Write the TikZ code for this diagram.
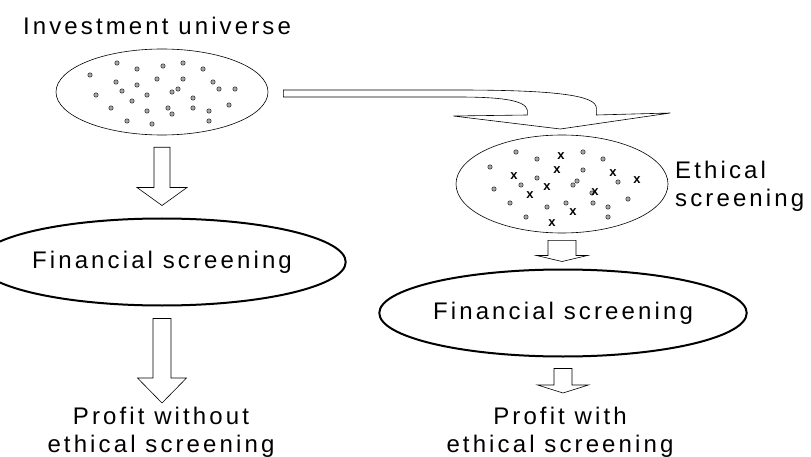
\documentclass[tikz,border=0pt]{standalone}
\usepackage{fontspec}
\setmainfont{Liberation Sans}[LetterSpace=13]
\usetikzlibrary{shapes.geometric,calc}

\tikzset{
  pool/.style={ellipse,draw,line width=0.6pt,inner sep=0pt,minimum width=212pt},
  screen/.style={ellipse,draw,line width=2pt,inner sep=0pt,minimum width=300pt,minimum height=87pt},
  lbl/.style={align=center,inner sep=0pt},
  dot/.style={draw=black!85,fill=black!35,line width=0.5pt},
  xmark/.style={inner sep=0pt,font=\fontsize{13}{13}\selectfont\bfseries\addfontfeatures{LetterSpace=0}},
  blockarrow/.style={draw,fill=white,line width=0.6pt,line join=miter}
}

% block arrow pointing down: top, tip, half shaft, half head, head length
\newcommand\blockdown[5]{%
  \draw[blockarrow] let \p1=(#1), \p2=(#2) in
    (\x1-#3,\y1) -- (\x1+#3,\y1) -- (\x1+#3,\y2+#5) -- (\x1+#4,\y2+#5)
    -- (\x1,\y2) -- (\x1-#4,\y2+#5) -- (\x1-#3,\y2+#5) -- cycle;}

\begin{document}
\begin{tikzpicture}[x=1pt,y=-1pt,font=\fontsize{24}{28}\selectfont]
    \path[use as bounding box,fill=white] (0,0) rectangle (811,457);

    \node[lbl] (title) at (157,26) {Investment universe};
    \node[pool,minimum height=86pt] (univ) at (162,92) {};
    \node[pool,minimum height=98pt] (ethic) at (562,184) {};
    \node[lbl,anchor=west,align=left] (ethlbl) at (675,186) {Ethical\\screening};
    \node[screen] (finL) at (162,262) {Financial screening};
    \node[screen] (finR) at (563,313) {Financial screening};
    \node[lbl,anchor=north] (profL) at (161,407) {Profit without\\ethical screening};
    \node[lbl,anchor=north] (profR) at (560,407) {Profit with\\ethical screening};

    % stocks in the universe
    \foreach \x/\y in {117/63,137/69,163/66,183/63,203/69,90/75,116/82,137/85,157/79,183/79,
        213/82,122/91,147/95,172/92,178/89,219/89,235/89,96/95,132/101,193/98,
        229/105,111/108,147/111,168/108,193/108,209/111,172/114,127/121,152/124,209/121}
        \filldraw[dot] (\x,\y) circle (2.2pt);

    % stocks after ethical screening
    \foreach \x/\y in {516/152,537/159,583/152,603/159,490/167,583/170,537/178,521/185,494/189,573/185,
        577/181,618/182,592/193,628/199,510/203,547/207,566/203,593/203,608/207,526/217,608/217}
        \filldraw[dot] (\x,\y) circle (2.2pt);
    \foreach \x/\y in {561/156,557/170,514/176,613/173,637/180,547/187,530/195,595/192,573/212,552/223}
        \node[xmark] at (\x,\y) {x};

    \coordinate (l1) at ($(univ.south)+(0,12)$);
    \coordinate (l1t) at ($(finL.north)+(0,-12)$);
    \coordinate (l2) at ($(finL.south)+(0,12)$);
    \coordinate (l2t) at ($(profL.north)+(0,-4)$);
    \coordinate (r1) at ($(ethic.south)+(0,7)$);
    \coordinate (r1t) at ($(finR.north)+(0,-7)$);
    \coordinate (r2) at ($(finR.south)+(0,11)$);
    \coordinate (r2t) at ($(profR.north)+(0,-14)$);

    \blockdown{l1}{l1t}{8pt}{25pt}{18pt}
    \blockdown{l2}{l2t}{9pt}{24.5pt}{25pt}
    \blockdown{r1}{r1t}{14pt}{25.5pt}{6pt}
    \blockdown{r2}{r2t}{9pt}{25.5pt}{8pt}

    % bent arrow from the universe to the ethical pool
    \coordinate (c1) at ($(univ.east)+(15,1.5)$);
    \begin{scope}[shift={(c1)}]
    \draw[blockarrow] (0,-3.5) -- (174,-3.5) .. controls (277,-3.5) and (313,2.5) .. (313,14.5)
        -- (313,21.5) -- (387,19.5) -- (277,35.5) -- (170,22.5) -- (244,21.5) -- (244,16.5)
        .. controls (242,6.5) and (217,3.5) .. (174,3.5) -- (0,3.5) -- cycle;
    \end{scope}
\end{tikzpicture}
\end{document}
